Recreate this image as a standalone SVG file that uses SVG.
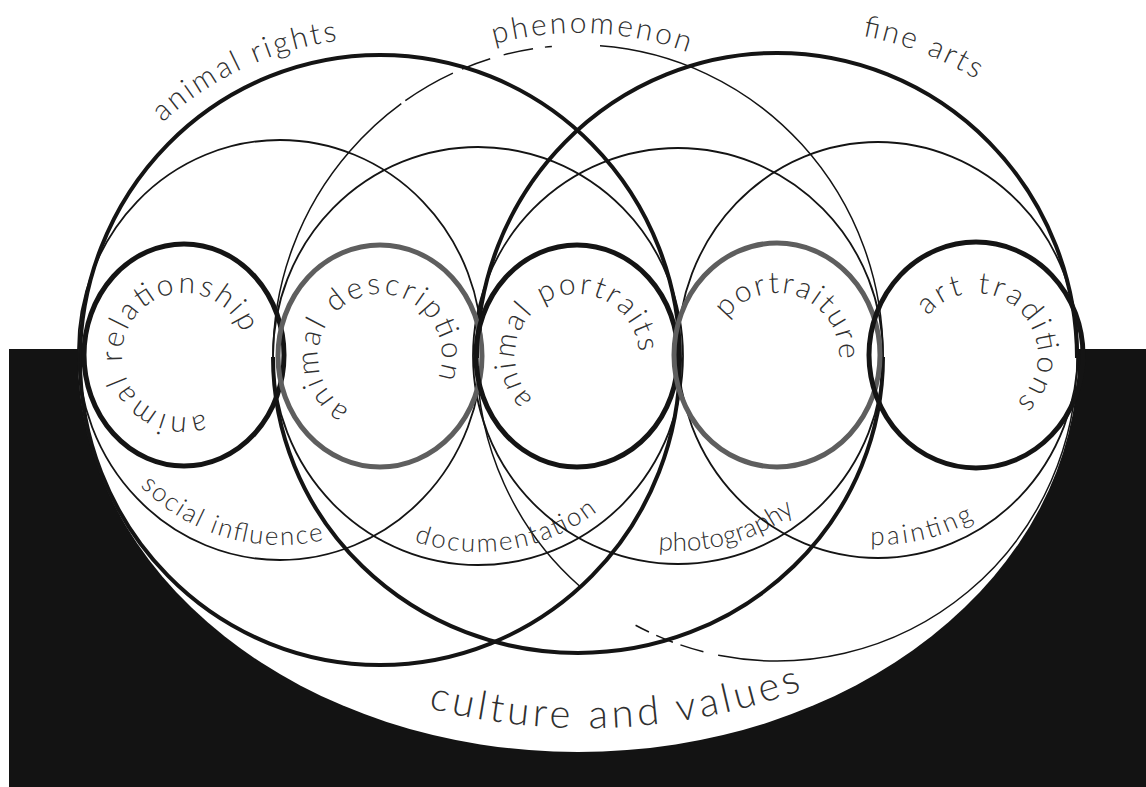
<svg xmlns="http://www.w3.org/2000/svg" width="1146" height="787" viewBox="0 0 1146 787">
<defs>
<style>
.lbl{font-family:Lato,"Noto Sans","Liberation Sans",sans-serif;font-weight:300;fill:#303030;}
.s{font-size:30px}
.m{font-size:26px}
.c{font-size:40px}
.small{fill:none;stroke:#141414;stroke-width:5}
.gray{stroke:#5e5e5e}
.med{fill:none;stroke:#141414;stroke-width:1.8}
.big{fill:none;stroke:#141414;stroke-width:4}
.thin{fill:none;stroke:#141414;stroke-width:1.5}
</style>
<path id="p-rel" d="M 204.2 413.6 A 62 62 0 1 1 242.4 334.3"/>
<path id="p-desc" d="M 349 409.7 A 62 62 0 1 1 437.5 379.2"/>
<path id="p-port" d="M 532.7 399.4 A 62 62 0 1 1 638.9 352.8"/>
<path id="p-ptre" d="M 726.8 318.6 A 62 62 0 0 1 838.8 360.4"/>
<path id="p-art" d="M 927.8 316 A 62 62 0 1 1 1015.9 402.5"/>
<path id="p-rights" d="M 162.5 122.6 A 322 322 0 0 1 337.4 40.8"/>
<path id="p-phen" d="M 494.1 44.1 A 324 324 0 0 1 688.8 52.5"/>
<path id="p-fine" d="M 862.5 35.8 A 340 340 0 0 1 976.1 79.3"/>
<path id="p-soc" d="M 140.1 485.9 A 195 195 0 0 0 327.2 539.2"/>
<path id="p-doc" d="M 414.2 541.3 A 196 196 0 0 0 598.7 510.4"/>
<path id="p-photo" d="M 658.3 550 A 195 195 0 0 0 795.9 511.3"/>
<path id="p-paint" d="M 870.2 544.8 A 195 195 0 0 0 974.6 519.4"/>
<path id="p-cult" d="M 428 708 A 630 630 0 0 0 802 690"/>
</defs>
<rect x="0" y="0" width="1146" height="787" fill="#ffffff"/>
<rect x="9" y="349" width="1137" height="438" fill="#131313"/>

<g id="culture-and-values">
<ellipse cx="578" cy="357" rx="500" ry="395" fill="#ffffff"/>
<text class="lbl c"><textPath href="#p-cult" textLength="380" lengthAdjust="spacing">culture and values</textPath></text>
</g>

<g id="animal-rights">
<ellipse class="big" cx="380" cy="360" rx="300" ry="305"/>
<text class="lbl s"><textPath href="#p-rights" textLength="196" lengthAdjust="spacing">animal rights</textPath></text>
</g>

<g id="phenomenon">
<path class="thin" d="M 273 357 A 305 310 0 0 1 350 151.1"/>
<path class="thin" d="M 350 151.1 A 305 310 0 0 1 600 45.8" stroke-dasharray="70 5 55 10 30 14 30 12 7 60"/>
<path class="thin" d="M 600 45.8 A 305 310 0 0 1 883 357"/>
<path class="big" d="M 883 357 A 305 296 0 0 1 273 357"/>
<text class="lbl s"><textPath href="#p-phen" textLength="197" lengthAdjust="spacing">phenomenon</textPath></text>
</g>

<g id="fine-arts">
<path class="big" d="M 477 358 A 300 305 0 0 1 1077 358"/>
<path class="thin" d="M 1077 358 A 300 303 0 0 1 720 655.5"/>
<path class="thin" d="M 720 655.5 A 300 303 0 0 1 580 586.5" stroke-dasharray="2 15 24 8 18 8 15 80"/>
<path class="thin" d="M 580 586.5 A 300 303 0 0 1 477 358"/>
<text class="lbl s"><textPath href="#p-fine" textLength="122" lengthAdjust="spacing">fine arts</textPath></text>
</g>

<g id="social-influence">
<ellipse class="med" cx="280" cy="350" rx="202" ry="210"/>
<text class="lbl m"><textPath href="#p-soc" textLength="200" lengthAdjust="spacing">social influence</textPath></text>
</g>
<g id="documentation">
<ellipse class="med" cx="478" cy="356" rx="205" ry="209"/>
<text class="lbl m"><textPath href="#p-doc" textLength="193" lengthAdjust="spacing">documentation</textPath></text>
</g>
<g id="photography">
<ellipse class="med" cx="678" cy="356" rx="205" ry="208"/>
<text class="lbl m"><textPath href="#p-photo" textLength="145" lengthAdjust="spacing">photography</textPath></text>
</g>
<g id="painting">
<ellipse class="med" cx="878" cy="350" rx="200" ry="208"/>
<text class="lbl m"><textPath href="#p-paint" textLength="108" lengthAdjust="spacing">painting</textPath></text>
</g>

<g id="animal-relationship">
<ellipse class="small" cx="184" cy="355" rx="100" ry="111"/>
<text class="lbl s"><textPath href="#p-rel" textLength="290" lengthAdjust="spacing">animal relationship</textPath></text>
</g>
<g id="animal-description">
<ellipse class="small gray" cx="380" cy="356" rx="102" ry="111"/>
<text class="lbl s"><textPath href="#p-desc" textLength="282" lengthAdjust="spacing">animal description</textPath></text>
</g>
<g id="animal-portraits">
<ellipse class="small" cx="577" cy="356" rx="101" ry="111"/>
<text class="lbl s"><textPath href="#p-port" textLength="238" lengthAdjust="spacing">animal portraits</textPath></text>
</g>
<g id="portraiture">
<ellipse class="small gray" cx="777" cy="355" rx="103" ry="112"/>
<text class="lbl s"><textPath href="#p-ptre" textLength="160" lengthAdjust="spacing">portraiture</textPath></text>
</g>
<g id="art-traditions">
<ellipse class="small" cx="976" cy="355" rx="107" ry="113"/>
<text class="lbl s"><textPath href="#p-art" textLength="205" lengthAdjust="spacing">art traditions</textPath></text>
</g>
</svg>
